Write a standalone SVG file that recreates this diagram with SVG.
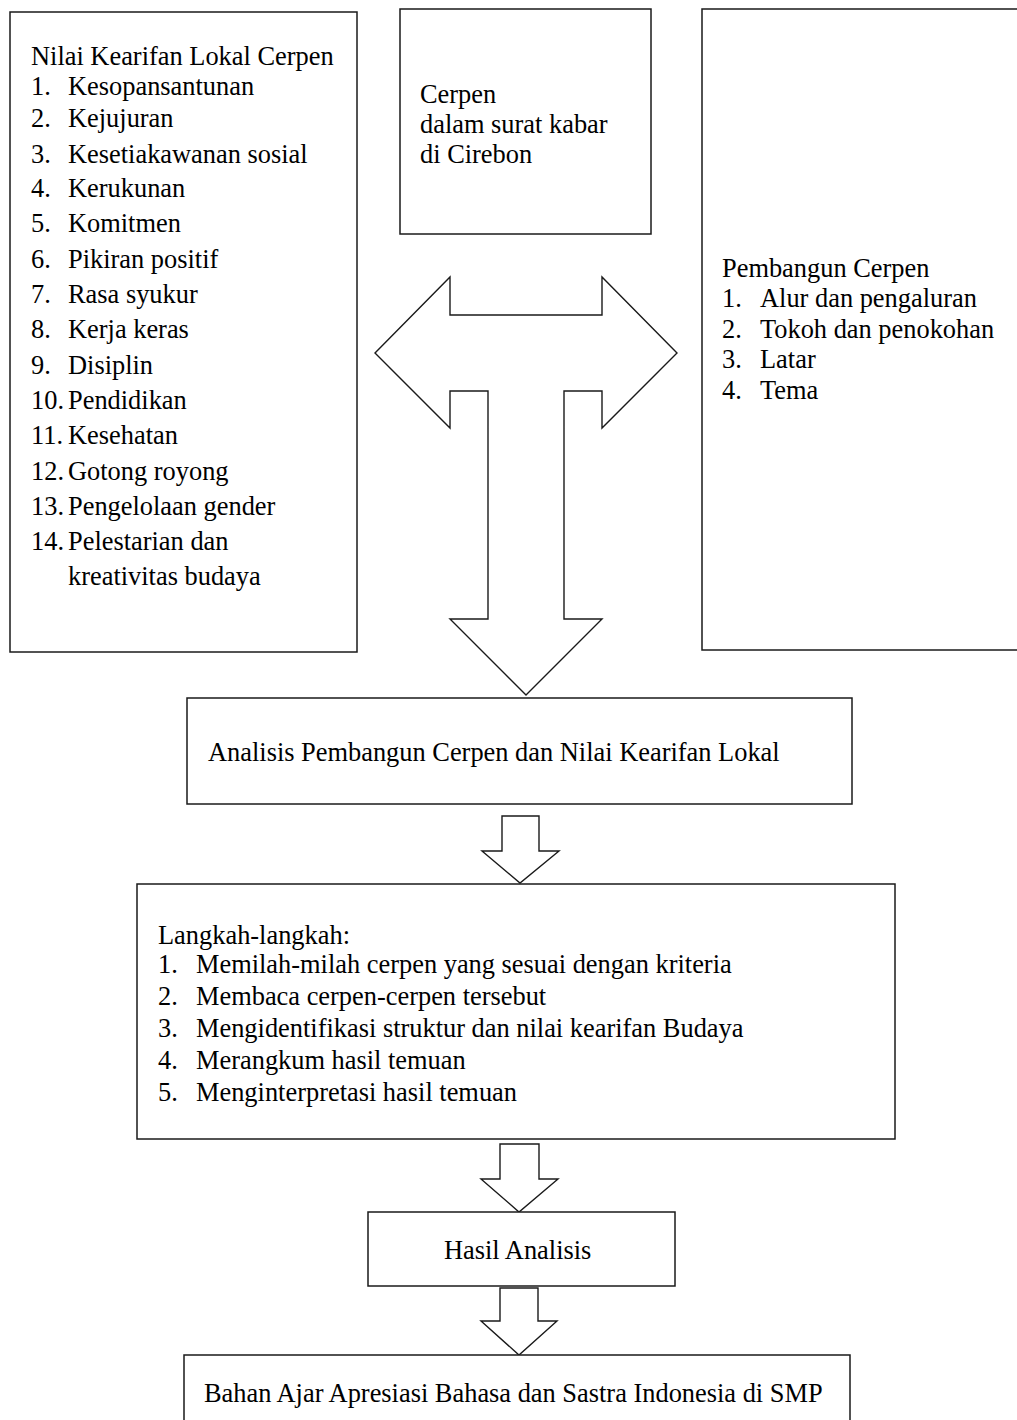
<svg xmlns="http://www.w3.org/2000/svg" width="1017" height="1420" viewBox="0 0 1017 1420">
<style>
.box{fill:#fff;stroke:#1a1a1a;stroke-width:1.5}
.arr{fill:#fff;stroke:#1a1a1a;stroke-width:1.4;stroke-linejoin:miter}
text{font-family:"Liberation Serif","Times New Roman",serif;font-size:26.4px;fill:#000}
</style>
<rect width="1017" height="1420" fill="#fff"/>
<g id="connectors">
<path class="arr" d="M375,353 L450,277 L450,315 L602,315 L602,277 L677,353 L602,428 L602,391 L564,391 L564,619 L602,619 L526,695 L450,619 L488,619 L488,391 L450,391 L450,428 Z"/>
<path class="arr" d="M502,816 L539,816 L539,851 L559,851 L520,883 L482,851 L502,851 Z"/>
<path class="arr" d="M500,1144 L539,1144 L539,1179 L558,1179 L519,1212 L481,1179 L500,1179 Z"/>
<path class="arr" d="M500,1288 L538,1288 L538,1321 L557,1321 L519,1355 L481,1321 L500,1321 Z"/>
</g>
<g id="nilai">
<rect class="box" x="10" y="12" width="347" height="640"/>
<text x="31" y="65">Nilai Kearifan Lokal Cerpen</text>
<text x="31" y="95">1.</text><text x="68" y="95">Kesopansantunan</text>
<text x="31" y="127">2.</text><text x="68" y="127">Kejujuran</text>
<text x="31" y="163">3.</text><text x="68" y="163">Kesetiakawanan sosial</text>
<text x="31" y="197">4.</text><text x="68" y="197">Kerukunan</text>
<text x="31" y="232">5.</text><text x="68" y="232">Komitmen</text>
<text x="31" y="268">6.</text><text x="68" y="268">Pikiran positif</text>
<text x="31" y="303">7.</text><text x="68" y="303">Rasa syukur</text>
<text x="31" y="338">8.</text><text x="68" y="338">Kerja keras</text>
<text x="31" y="374">9.</text><text x="68" y="374">Disiplin</text>
<text x="31" y="409">10.</text><text x="68" y="409">Pendidikan</text>
<text x="31" y="444">11.</text><text x="68" y="444">Kesehatan</text>
<text x="31" y="480">12.</text><text x="68" y="480">Gotong royong</text>
<text x="31" y="515">13.</text><text x="68" y="515">Pengelolaan gender</text>
<text x="31" y="550">14.</text><text x="68" y="550">Pelestarian dan</text>
<text x="68" y="585">kreativitas budaya</text>
</g>
<g id="cerpen">
<rect class="box" x="400" y="9" width="251" height="225"/>
<text x="420" y="103">Cerpen</text>
<text x="420" y="133">dalam surat kabar</text>
<text x="420" y="163">di Cirebon</text>
</g>
<g id="pembangun">
<rect class="box" x="702" y="9" width="330" height="641"/>
<text x="722" y="277">Pembangun Cerpen</text>
<text x="722" y="307">1.</text><text x="760" y="307">Alur dan pengaluran</text>
<text x="722" y="338">2.</text><text x="760" y="338">Tokoh dan penokohan</text>
<text x="722" y="368">3.</text><text x="760" y="368">Latar</text>
<text x="722" y="399">4.</text><text x="760" y="399">Tema</text>
</g>
<g id="analisis">
<rect class="box" x="187" y="698" width="665" height="106"/>
<text x="208" y="761">Analisis Pembangun Cerpen dan Nilai Kearifan Lokal</text>
</g>
<g id="langkah">
<rect class="box" x="137" y="884" width="758" height="255"/>
<text x="158" y="944">Langkah-langkah:</text>
<text x="158" y="973">1.</text><text x="196" y="973">Memilah-milah cerpen yang sesuai dengan kriteria</text>
<text x="158" y="1005">2.</text><text x="196" y="1005">Membaca cerpen-cerpen tersebut</text>
<text x="158" y="1037">3.</text><text x="196" y="1037">Mengidentifikasi struktur dan nilai kearifan Budaya</text>
<text x="158" y="1069">4.</text><text x="196" y="1069">Merangkum hasil temuan</text>
<text x="158" y="1101">5.</text><text x="196" y="1101">Menginterpretasi hasil temuan</text>
</g>
<g id="hasil">
<rect class="box" x="368" y="1212" width="307" height="74"/>
<text x="444" y="1259">Hasil Analisis</text>
</g>
<g id="bahan">
<rect class="box" x="184" y="1355" width="666" height="80"/>
<text x="204" y="1402">Bahan Ajar Apresiasi Bahasa dan Sastra Indonesia di SMP</text>
</g>
</svg>
